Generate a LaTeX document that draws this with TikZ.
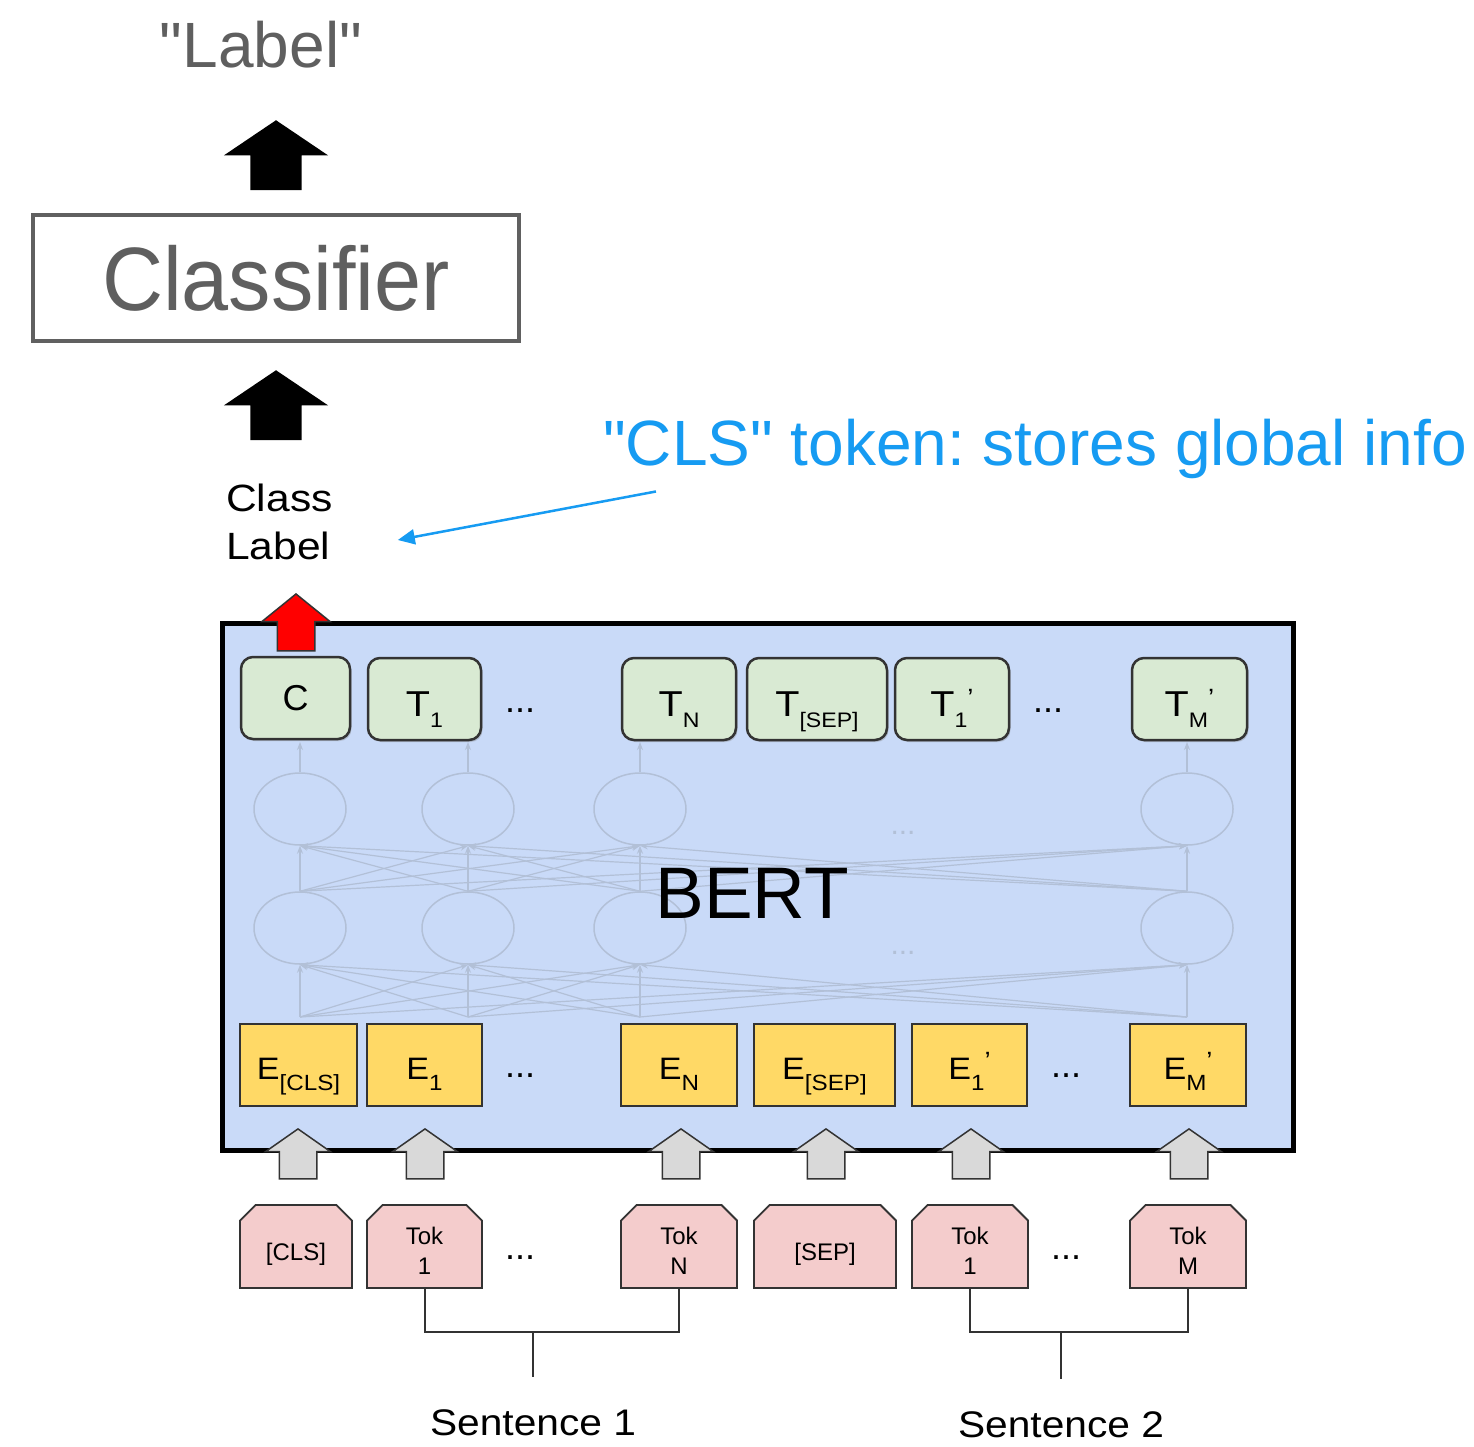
\documentclass[tikz,border=0pt]{standalone}
\usepackage{fontspec}
\setmainfont{Liberation Sans}[Ligatures=TeXOff]
\usetikzlibrary{shapes.misc,shapes.arrows,shapes.geometric,arrows.meta,shadows,calc}

\definecolor{bertfill}{RGB}{201,218,248}
\definecolor{tfill}{RGB}{217,234,211}
\definecolor{efill}{RGB}{255,217,102}
\definecolor{tokfill}{RGB}{244,204,204}
\definecolor{arrgray}{RGB}{217,217,217}
\definecolor{boxline}{RGB}{51,51,51}
\definecolor{textgray}{RGB}{95,95,95}
\definecolor{clsgray}{RGB}{96,96,96}
\definecolor{bluec}{RGB}{22,155,242}
\definecolor{faint}{RGB}{178,192,215}

\frenchspacing
\newcommand\fs[1]{\fontsize{#1}{#1}\selectfont}
\newcommand\wx[1]{\scalebox{1.1}[1]{#1}}
\newcommand\tlab[3]{#1\raisebox{-11pt}{\fs{21}#2}\raisebox{10pt}{\fs{25}#3}}
\newcommand\elab[3]{#1\raisebox{-11pt}{\fs{22}#2}\raisebox{10pt}{\fs{25}#3}}
\newcommand\tk[1]{\begin{tabular}[t]{@{}c@{}}#1\end{tabular}}

\tikzset{
  tbox/.style={draw=boxline, line width=2.5pt, fill=tfill, rounded corners=12pt,
    minimum height=82pt, inner sep=0pt, font=\fs{36}, text height=34pt, text depth=0pt,
    drop shadow={shadow xshift=1.5pt, shadow yshift=-2pt, opacity=.35}},
  ebox/.style={draw=boxline, line width=2pt, fill=efill, minimum height=82pt,
    inner sep=0pt, font=\fs{31}, text height=28pt, text depth=0pt},
  tokbox/.style={chamfered rectangle, chamfered rectangle corners={north west,north east},
    chamfered rectangle xsep=12pt, draw=boxline, line width=1.8pt, fill=tokfill,
    minimum height=83pt, inner sep=0pt, font=\fontsize{24}{30}\selectfont,
    text height=27pt, text depth=0pt},
  tok2/.style={tokbox, text height=30pt, text depth=35pt},
  blk/.style={single arrow, shape border rotate=90, fill=black, inner sep=0pt,
    minimum height=70pt, minimum width=104pt, single arrow head extend=26.5pt,
    single arrow tip angle=112},
  redarr/.style={single arrow, shape border rotate=90, fill=red, draw=boxline, line width=1.5pt,
    inner sep=0pt, minimum height=57pt, minimum width=67pt, single arrow head extend=15.5pt,
    single arrow tip angle=102},
  grayarr/.style={single arrow, shape border rotate=90, fill=arrgray, draw=boxline, line width=1.5pt,
    inner sep=0pt, minimum height=50pt, minimum width=63pt, single arrow head extend=13.5pt,
    single arrow tip angle=110},
  neuron/.style={ellipse, draw=faint, line width=1.5pt, minimum width=92pt, minimum height=72pt, inner sep=0pt},
  faintline/.style={draw=faint, line width=1.2pt, -{Stealth[length=8pt,width=6pt]}},
  bracket/.style={draw=boxline, line width=2pt},
  bluearr/.style={draw=bluec, line width=2.5pt, -{Triangle[length=17pt,width=15pt]}},
  dots/.style={font=\fs{36}, anchor=base, inner sep=0pt}
}

\begin{document}
\begin{tikzpicture}[x=1pt,y=-1pt]
\fill[white] (0,0) rectangle (1474,1447);
\useasboundingbox (0,0) rectangle (1474,1447);

% top part
\node[font=\fs{64}, text=textgray, anchor=base, inner sep=0pt] (lbl) at (261,68) {"Label"};
\node[blk, anchor=tip] (a1) at (276,120) {\hspace*{51pt}};
\node[draw=clsgray, line width=4pt, minimum width=486pt, minimum height=126pt, inner sep=0pt,
      font=\fs{90}, text=textgray, text height=65pt, text depth=0pt] (cls) at (276,278)
      {\scalebox{0.94}[1]{Classifier}};
\node[blk, anchor=tip] (a2) at (276,370) {\hspace*{51pt}};
\node[font=\fontsize{38}{48}\selectfont, align=left, anchor=west, inner sep=0pt] (cl) at (226,522)
      {\scalebox{1.12}[1]{Class}\\\scalebox{1.12}[1]{Label}};
\node[font=\fs{64}, text=bluec, anchor=base, inner sep=0pt] (note) at (1035,465)
      {"CLS" token: stores global info};
\draw[bluearr] ([shift={(53,13)}]note.south west) -- ([shift={(65,18)}]cl.east);

% BERT box
\node[draw=black, line width=5pt, fill=bertfill, minimum width=1071pt, minimum height=527pt,
      inner sep=0pt] (bert) at (757.5,886.5) {};

% faint network
\foreach \x [count=\k] in {300,468,640,1187} {
  \node[neuron] (u\k) at (\x,809) {};
  \node[neuron] (l\k) at (\x,928) {};
  \coordinate (b\k) at (\x,1017);
  \coordinate (t\k) at (\x,742);
}
\foreach \j in {1,...,4} {
  \foreach \k in {1,...,4} {
    \draw[faintline] (b\j) -- (l\k.south);
    \draw[faintline] (l\j.north) -- (u\k.south);
  }
  \draw[faintline] (u\j.north) -- (t\j);
}
\node[font=\fs{30}, text=faint] (fd1) at (903,833) {...};
\node[font=\fs{30}, text=faint] (fd2) at (903,953) {...};

% T row
\node[tbox, minimum width=109pt, text height=24pt] (c) at (295.5,698) {C};
\node[tbox, minimum width=113pt] (t1) at (424.5,699) {\wx{\tlab{T}{1}{}}};
\node[dots] (dt1) at (520,712) {...};
\node[tbox, minimum width=114pt] (tn) at (679,699) {\wx{\tlab{T}{N}{}}};
\node[tbox, minimum width=140pt] (tsep) at (817,699) {\wx{\tlab{T}{[SEP]}{}}};
\node[tbox, minimum width=114pt] (t1p) at (952,699) {\wx{\tlab{T}{1}{’}}};
\node[dots] (dt2) at (1048,712) {...};
\node[tbox, minimum width=115pt] (tmp) at (1189.5,699) {\wx{\tlab{T}{M}{’}}};

\node[font=\fs{73}, inner sep=0pt] (berttxt) at (752,893) {BERT};

% E row
\node[ebox, minimum width=117pt] (ecls) at (298.5,1065) {\wx{\elab{E}{[CLS]}{}}};
\node[ebox, minimum width=115pt] (e1) at (424.5,1065) {\wx{\elab{E}{1}{}}};
\node[dots] (de1) at (520,1077) {...};
\node[ebox, minimum width=116pt] (en) at (679,1065) {\wx{\elab{E}{N}{}}};
\node[ebox, minimum width=141pt] (esep) at (824.5,1065) {\wx{\elab{E}{[SEP]}{}}};
\node[ebox, minimum width=115pt] (e1p) at (969.5,1065) {\wx{\elab{E}{1}{’}}};
\node[dots] (de2) at (1066,1077) {...};
\node[ebox, minimum width=116pt] (emp) at (1188,1065) {\wx{\elab{E}{M}{’}}};

% arrows on box borders
\node[redarr, anchor=tip] (ra) at (296,593) {\hspace*{36pt}};
\foreach \x [count=\k] in {298,425,681,826,971,1189}
  \node[grayarr, anchor=tip] (g\k) at (\x,1128) {\hspace*{36pt}};

% tokens
\node[tokbox, minimum width=112pt] (k1) at (296,1246.5) {[CLS]};
\node[tok2, minimum width=115pt] (k2) at (424.5,1246.5) {\tk{Tok\\1}};
\node[dots] (dk1) at (520,1259) {...};
\node[tok2, minimum width=116pt] (k3) at (679,1246.5) {\tk{Tok\\N}};
\node[tokbox, minimum width=142pt] (k4) at (825,1246.5) {[SEP]};
\node[tok2, minimum width=116pt] (k5) at (970,1246.5) {\tk{Tok\\1}};
\node[dots] (dk2) at (1066,1259) {...};
\node[tok2, minimum width=116pt] (k6) at (1188,1246.5) {\tk{Tok\\M}};

% sentences
\node[font=\fs{37}, anchor=base, inner sep=0pt] (s1) at (533,1435) {\wx{Sentence 1}};
\node[font=\fs{37}, anchor=base, inner sep=0pt] (s2) at (1061,1437) {\wx{Sentence 2}};
\coordinate (br1) at (533,1332);
\coordinate (br2) at (1061,1332);
\draw[bracket] (k2.south) |- (br1) -| (k3.south);
\draw[bracket] (br1) -- ([yshift=32pt]s1.north);
\draw[bracket] (k5.south) |- (br2) -| (k6.south);
\draw[bracket] (br2) -- ([yshift=32pt]s2.north);
\end{tikzpicture}
\end{document}
